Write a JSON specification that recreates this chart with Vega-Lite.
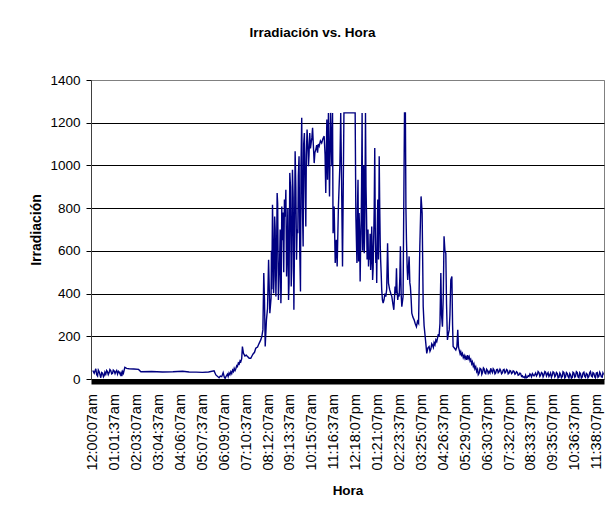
{
  "$schema": "https://vega.github.io/schema/vega-lite/v6.json",
  "width": 513,
  "height": 299,
  "autosize": {"type": "none"},
  "padding": {"left": 91, "top": 80, "right": 9, "bottom": 134},
  "background": "white",
  "config": {
    "font": "Liberation Sans",
    "view": {"stroke": "#808080", "strokeWidth": 1}
  },
  "title": {
    "text": "Irradiación vs. Hora",
    "fontSize": 13.5,
    "fontWeight": "bold",
    "color": "black",
    "anchor": "middle",
    "frame": "group",
    "dx": -35,
    "offset": 34
  },
  "data": {
    "values": [
      {"muestra": 0, "irradiacion": 40}, {"muestra": 8, "irradiacion": 27}, {"muestra": 17, "irradiacion": 48},
      {"muestra": 22, "irradiacion": 20}, {"muestra": 27, "irradiacion": 14}, {"muestra": 31, "irradiacion": 42},
      {"muestra": 36, "irradiacion": 34}, {"muestra": 41, "irradiacion": 18}, {"muestra": 45, "irradiacion": 6},
      {"muestra": 50, "irradiacion": 30}, {"muestra": 55, "irradiacion": 27}, {"muestra": 60, "irradiacion": 10},
      {"muestra": 64, "irradiacion": 16}, {"muestra": 68, "irradiacion": 32}, {"muestra": 73, "irradiacion": 22},
      {"muestra": 78, "irradiacion": 40}, {"muestra": 82, "irradiacion": 35}, {"muestra": 87, "irradiacion": 20},
      {"muestra": 92, "irradiacion": 30}, {"muestra": 96, "irradiacion": 44}, {"muestra": 101, "irradiacion": 39},
      {"muestra": 106, "irradiacion": 24}, {"muestra": 111, "irradiacion": 27}, {"muestra": 115, "irradiacion": 42},
      {"muestra": 120, "irradiacion": 38}, {"muestra": 125, "irradiacion": 25}, {"muestra": 129, "irradiacion": 34},
      {"muestra": 134, "irradiacion": 40}, {"muestra": 139, "irradiacion": 23}, {"muestra": 144, "irradiacion": 36},
      {"muestra": 148, "irradiacion": 33}, {"muestra": 155, "irradiacion": 20}, {"muestra": 159, "irradiacion": 30},
      {"muestra": 163, "irradiacion": 14}, {"muestra": 168, "irradiacion": 35}, {"muestra": 172, "irradiacion": 27},
      {"muestra": 180, "irradiacion": 55}, {"muestra": 190, "irradiacion": 50}, {"muestra": 204, "irradiacion": 48},
      {"muestra": 230, "irradiacion": 47}, {"muestra": 257, "irradiacion": 45}, {"muestra": 270, "irradiacion": 34},
      {"muestra": 330, "irradiacion": 35}, {"muestra": 391, "irradiacion": 33}, {"muestra": 450, "irradiacion": 34},
      {"muestra": 504, "irradiacion": 36}, {"muestra": 541, "irradiacion": 33}, {"muestra": 580, "irradiacion": 32},
      {"muestra": 616, "irradiacion": 31}, {"muestra": 650, "irradiacion": 33}, {"muestra": 681, "irradiacion": 38},
      {"muestra": 691, "irradiacion": 19}, {"muestra": 709, "irradiacion": 6}, {"muestra": 716, "irradiacion": 14},
      {"muestra": 724, "irradiacion": 11}, {"muestra": 732, "irradiacion": 30}, {"muestra": 738, "irradiacion": 10},
      {"muestra": 743, "irradiacion": 3}, {"muestra": 750, "irradiacion": 15}, {"muestra": 756, "irradiacion": 23},
      {"muestra": 760, "irradiacion": 12}, {"muestra": 765, "irradiacion": 28}, {"muestra": 770, "irradiacion": 20},
      {"muestra": 775, "irradiacion": 34}, {"muestra": 780, "irradiacion": 25}, {"muestra": 785, "irradiacion": 42},
      {"muestra": 790, "irradiacion": 35}, {"muestra": 794, "irradiacion": 50}, {"muestra": 799, "irradiacion": 40},
      {"muestra": 803, "irradiacion": 48}, {"muestra": 808, "irradiacion": 62}, {"muestra": 812, "irradiacion": 58},
      {"muestra": 817, "irradiacion": 75}, {"muestra": 822, "irradiacion": 70}, {"muestra": 827, "irradiacion": 85},
      {"muestra": 831, "irradiacion": 81}, {"muestra": 836, "irradiacion": 95}, {"muestra": 840, "irradiacion": 152},
      {"muestra": 846, "irradiacion": 120}, {"muestra": 854, "irradiacion": 108}, {"muestra": 862, "irradiacion": 112},
      {"muestra": 869, "irradiacion": 105}, {"muestra": 878, "irradiacion": 97}, {"muestra": 887, "irradiacion": 97},
      {"muestra": 895, "irradiacion": 110}, {"muestra": 900, "irradiacion": 117}, {"muestra": 908, "irradiacion": 125},
      {"muestra": 915, "irradiacion": 144}, {"muestra": 925, "irradiacion": 150}, {"muestra": 934, "irradiacion": 167},
      {"muestra": 943, "irradiacion": 183}, {"muestra": 949, "irradiacion": 199}, {"muestra": 955, "irradiacion": 230},
      {"muestra": 960, "irradiacion": 496}, {"muestra": 964, "irradiacion": 370}, {"muestra": 968, "irradiacion": 152},
      {"muestra": 975, "irradiacion": 277}, {"muestra": 981, "irradiacion": 330}, {"muestra": 987, "irradiacion": 558},
      {"muestra": 994, "irradiacion": 308}, {"muestra": 1001, "irradiacion": 380}, {"muestra": 1003, "irradiacion": 600},
      {"muestra": 1005, "irradiacion": 420}, {"muestra": 1009, "irradiacion": 816}, {"muestra": 1012, "irradiacion": 650},
      {"muestra": 1015, "irradiacion": 402}, {"muestra": 1018, "irradiacion": 480}, {"muestra": 1021, "irradiacion": 761},
      {"muestra": 1024, "irradiacion": 700}, {"muestra": 1028, "irradiacion": 386}, {"muestra": 1031, "irradiacion": 520},
      {"muestra": 1035, "irradiacion": 871}, {"muestra": 1038, "irradiacion": 820}, {"muestra": 1042, "irradiacion": 370},
      {"muestra": 1045, "irradiacion": 450}, {"muestra": 1049, "irradiacion": 558}, {"muestra": 1052, "irradiacion": 700},
      {"muestra": 1056, "irradiacion": 355}, {"muestra": 1058, "irradiacion": 420}, {"muestra": 1061, "irradiacion": 808},
      {"muestra": 1064, "irradiacion": 650}, {"muestra": 1068, "irradiacion": 780}, {"muestra": 1072, "irradiacion": 500},
      {"muestra": 1076, "irradiacion": 840}, {"muestra": 1080, "irradiacion": 760}, {"muestra": 1084, "irradiacion": 886},
      {"muestra": 1088, "irradiacion": 480}, {"muestra": 1092, "irradiacion": 621}, {"muestra": 1095, "irradiacion": 800},
      {"muestra": 1099, "irradiacion": 370}, {"muestra": 1102, "irradiacion": 450}, {"muestra": 1106, "irradiacion": 965},
      {"muestra": 1110, "irradiacion": 900}, {"muestra": 1114, "irradiacion": 433}, {"muestra": 1117, "irradiacion": 520},
      {"muestra": 1121, "irradiacion": 980}, {"muestra": 1125, "irradiacion": 850}, {"muestra": 1129, "irradiacion": 324},
      {"muestra": 1132, "irradiacion": 600}, {"muestra": 1136, "irradiacion": 1066}, {"muestra": 1140, "irradiacion": 900},
      {"muestra": 1144, "irradiacion": 558}, {"muestra": 1147, "irradiacion": 700}, {"muestra": 1151, "irradiacion": 683},
      {"muestra": 1154, "irradiacion": 950}, {"muestra": 1158, "irradiacion": 1043}, {"muestra": 1162, "irradiacion": 600},
      {"muestra": 1166, "irradiacion": 410}, {"muestra": 1169, "irradiacion": 1000}, {"muestra": 1173, "irradiacion": 1223},
      {"muestra": 1177, "irradiacion": 800}, {"muestra": 1181, "irradiacion": 621}, {"muestra": 1184, "irradiacion": 1100},
      {"muestra": 1188, "irradiacion": 1152}, {"muestra": 1192, "irradiacion": 900}, {"muestra": 1196, "irradiacion": 714},
      {"muestra": 1199, "irradiacion": 1050}, {"muestra": 1203, "irradiacion": 1168}, {"muestra": 1207, "irradiacion": 1100},
      {"muestra": 1211, "irradiacion": 996}, {"muestra": 1214, "irradiacion": 1050}, {"muestra": 1218, "irradiacion": 1152},
      {"muestra": 1222, "irradiacion": 1080}, {"muestra": 1226, "irradiacion": 1105}, {"muestra": 1230, "irradiacion": 1130},
      {"muestra": 1234, "irradiacion": 1176}, {"muestra": 1238, "irradiacion": 1100}, {"muestra": 1243, "irradiacion": 1011},
      {"muestra": 1247, "irradiacion": 1060}, {"muestra": 1252, "irradiacion": 1074}, {"muestra": 1257, "irradiacion": 1095},
      {"muestra": 1262, "irradiacion": 1060}, {"muestra": 1266, "irradiacion": 1100}, {"muestra": 1271, "irradiacion": 1090},
      {"muestra": 1278, "irradiacion": 1115}, {"muestra": 1285, "irradiacion": 1105}, {"muestra": 1292, "irradiacion": 1125},
      {"muestra": 1299, "irradiacion": 1137}, {"muestra": 1304, "irradiacion": 1050}, {"muestra": 1308, "irradiacion": 871},
      {"muestra": 1314, "irradiacion": 1215}, {"muestra": 1318, "irradiacion": 933}, {"muestra": 1323, "irradiacion": 1246},
      {"muestra": 1329, "irradiacion": 855}, {"muestra": 1335, "irradiacion": 1246}, {"muestra": 1342, "irradiacion": 996},
      {"muestra": 1346, "irradiacion": 1246}, {"muestra": 1349, "irradiacion": 683}, {"muestra": 1355, "irradiacion": 808},
      {"muestra": 1361, "irradiacion": 543}, {"muestra": 1367, "irradiacion": 652}, {"muestra": 1372, "irradiacion": 527},
      {"muestra": 1379, "irradiacion": 808}, {"muestra": 1387, "irradiacion": 996}, {"muestra": 1392, "irradiacion": 1246},
      {"muestra": 1396, "irradiacion": 980}, {"muestra": 1402, "irradiacion": 527}, {"muestra": 1410, "irradiacion": 1246},
      {"muestra": 1473, "irradiacion": 1246}, {"muestra": 1477, "irradiacion": 761}, {"muestra": 1480, "irradiacion": 650},
      {"muestra": 1483, "irradiacion": 543}, {"muestra": 1486, "irradiacion": 800}, {"muestra": 1489, "irradiacion": 933},
      {"muestra": 1492, "irradiacion": 550}, {"muestra": 1495, "irradiacion": 777}, {"muestra": 1498, "irradiacion": 700},
      {"muestra": 1501, "irradiacion": 456}, {"muestra": 1503, "irradiacion": 580}, {"muestra": 1506, "irradiacion": 683},
      {"muestra": 1509, "irradiacion": 900}, {"muestra": 1512, "irradiacion": 1246}, {"muestra": 1515, "irradiacion": 600},
      {"muestra": 1518, "irradiacion": 761}, {"muestra": 1521, "irradiacion": 1000}, {"muestra": 1524, "irradiacion": 589},
      {"muestra": 1527, "irradiacion": 700}, {"muestra": 1531, "irradiacion": 1246}, {"muestra": 1534, "irradiacion": 900},
      {"muestra": 1537, "irradiacion": 761}, {"muestra": 1540, "irradiacion": 560}, {"muestra": 1542, "irradiacion": 652},
      {"muestra": 1545, "irradiacion": 700}, {"muestra": 1548, "irradiacion": 527}, {"muestra": 1551, "irradiacion": 600},
      {"muestra": 1554, "irradiacion": 558}, {"muestra": 1557, "irradiacion": 680}, {"muestra": 1560, "irradiacion": 511},
      {"muestra": 1563, "irradiacion": 560}, {"muestra": 1566, "irradiacion": 714}, {"muestra": 1569, "irradiacion": 600},
      {"muestra": 1571, "irradiacion": 464}, {"muestra": 1574, "irradiacion": 520}, {"muestra": 1577, "irradiacion": 652},
      {"muestra": 1580, "irradiacion": 800}, {"muestra": 1583, "irradiacion": 1082}, {"muestra": 1586, "irradiacion": 700},
      {"muestra": 1589, "irradiacion": 543}, {"muestra": 1592, "irradiacion": 600}, {"muestra": 1594, "irradiacion": 449},
      {"muestra": 1597, "irradiacion": 700}, {"muestra": 1600, "irradiacion": 840}, {"muestra": 1604, "irradiacion": 560},
      {"muestra": 1608, "irradiacion": 1043}, {"muestra": 1611, "irradiacion": 800}, {"muestra": 1614, "irradiacion": 621},
      {"muestra": 1616, "irradiacion": 560}, {"muestra": 1619, "irradiacion": 496}, {"muestra": 1622, "irradiacion": 420},
      {"muestra": 1626, "irradiacion": 370}, {"muestra": 1630, "irradiacion": 355}, {"muestra": 1635, "irradiacion": 370},
      {"muestra": 1640, "irradiacion": 400}, {"muestra": 1645, "irradiacion": 386}, {"muestra": 1650, "irradiacion": 420},
      {"muestra": 1655, "irradiacion": 636}, {"muestra": 1660, "irradiacion": 449}, {"muestra": 1664, "irradiacion": 430},
      {"muestra": 1667, "irradiacion": 417}, {"muestra": 1673, "irradiacion": 400}, {"muestra": 1679, "irradiacion": 386},
      {"muestra": 1685, "irradiacion": 350}, {"muestra": 1690, "irradiacion": 324}, {"muestra": 1697, "irradiacion": 433},
      {"muestra": 1701, "irradiacion": 400}, {"muestra": 1705, "irradiacion": 519}, {"muestra": 1708, "irradiacion": 420},
      {"muestra": 1712, "irradiacion": 370}, {"muestra": 1716, "irradiacion": 400}, {"muestra": 1720, "irradiacion": 386},
      {"muestra": 1724, "irradiacion": 480}, {"muestra": 1727, "irradiacion": 621}, {"muestra": 1731, "irradiacion": 400},
      {"muestra": 1735, "irradiacion": 339}, {"muestra": 1742, "irradiacion": 386}, {"muestra": 1750, "irradiacion": 1246},
      {"muestra": 1755, "irradiacion": 1246}, {"muestra": 1758, "irradiacion": 800}, {"muestra": 1761, "irradiacion": 652},
      {"muestra": 1765, "irradiacion": 520}, {"muestra": 1768, "irradiacion": 464}, {"muestra": 1772, "irradiacion": 520},
      {"muestra": 1776, "irradiacion": 574}, {"muestra": 1780, "irradiacion": 450}, {"muestra": 1783, "irradiacion": 433},
      {"muestra": 1787, "irradiacion": 380}, {"muestra": 1791, "irradiacion": 308}, {"muestra": 1797, "irradiacion": 290},
      {"muestra": 1804, "irradiacion": 277}, {"muestra": 1810, "irradiacion": 260}, {"muestra": 1817, "irradiacion": 245},
      {"muestra": 1823, "irradiacion": 270}, {"muestra": 1829, "irradiacion": 261}, {"muestra": 1836, "irradiacion": 621},
      {"muestra": 1843, "irradiacion": 855}, {"muestra": 1849, "irradiacion": 777}, {"muestra": 1855, "irradiacion": 339},
      {"muestra": 1860, "irradiacion": 250}, {"muestra": 1866, "irradiacion": 199}, {"muestra": 1875, "irradiacion": 120},
      {"muestra": 1881, "irradiacion": 145}, {"muestra": 1888, "irradiacion": 152}, {"muestra": 1893, "irradiacion": 130},
      {"muestra": 1898, "irradiacion": 140}, {"muestra": 1903, "irradiacion": 165}, {"muestra": 1907, "irradiacion": 159},
      {"muestra": 1912, "irradiacion": 148}, {"muestra": 1916, "irradiacion": 170}, {"muestra": 1921, "irradiacion": 160},
      {"muestra": 1926, "irradiacion": 183}, {"muestra": 1931, "irradiacion": 175}, {"muestra": 1935, "irradiacion": 190},
      {"muestra": 1940, "irradiacion": 210}, {"muestra": 1944, "irradiacion": 199}, {"muestra": 1949, "irradiacion": 260},
      {"muestra": 1954, "irradiacion": 496}, {"muestra": 1958, "irradiacion": 300}, {"muestra": 1963, "irradiacion": 245},
      {"muestra": 1968, "irradiacion": 400}, {"muestra": 1972, "irradiacion": 668}, {"muestra": 1977, "irradiacion": 600},
      {"muestra": 1982, "irradiacion": 589}, {"muestra": 1986, "irradiacion": 350}, {"muestra": 1991, "irradiacion": 183},
      {"muestra": 1996, "irradiacion": 210}, {"muestra": 2001, "irradiacion": 230}, {"muestra": 2005, "irradiacion": 300},
      {"muestra": 2010, "irradiacion": 464}, {"muestra": 2016, "irradiacion": 480}, {"muestra": 2020, "irradiacion": 250},
      {"muestra": 2023, "irradiacion": 152}, {"muestra": 2030, "irradiacion": 145}, {"muestra": 2038, "irradiacion": 136},
      {"muestra": 2044, "irradiacion": 150}, {"muestra": 2049, "irradiacion": 230}, {"muestra": 2053, "irradiacion": 150},
      {"muestra": 2057, "irradiacion": 136}, {"muestra": 2062, "irradiacion": 118}, {"muestra": 2066, "irradiacion": 128},
      {"muestra": 2070, "irradiacion": 112}, {"muestra": 2075, "irradiacion": 120}, {"muestra": 2080, "irradiacion": 100},
      {"muestra": 2085, "irradiacion": 110}, {"muestra": 2090, "irradiacion": 95}, {"muestra": 2094, "irradiacion": 105},
      {"muestra": 2099, "irradiacion": 90}, {"muestra": 2104, "irradiacion": 112}, {"muestra": 2108, "irradiacion": 95},
      {"muestra": 2113, "irradiacion": 105}, {"muestra": 2118, "irradiacion": 85}, {"muestra": 2122, "irradiacion": 92},
      {"muestra": 2127, "irradiacion": 72}, {"muestra": 2131, "irradiacion": 81}, {"muestra": 2136, "irradiacion": 60},
      {"muestra": 2140, "irradiacion": 70}, {"muestra": 2145, "irradiacion": 48}, {"muestra": 2150, "irradiacion": 58},
      {"muestra": 2155, "irradiacion": 35}, {"muestra": 2160, "irradiacion": 45}, {"muestra": 2164, "irradiacion": 20},
      {"muestra": 2169, "irradiacion": 27}, {"muestra": 2174, "irradiacion": 50}, {"muestra": 2180, "irradiacion": 45},
      {"muestra": 2184, "irradiacion": 22}, {"muestra": 2188, "irradiacion": 30}, {"muestra": 2193, "irradiacion": 52},
      {"muestra": 2197, "irradiacion": 48}, {"muestra": 2202, "irradiacion": 28}, {"muestra": 2206, "irradiacion": 25},
      {"muestra": 2211, "irradiacion": 46}, {"muestra": 2216, "irradiacion": 40}, {"muestra": 2220, "irradiacion": 26},
      {"muestra": 2225, "irradiacion": 35}, {"muestra": 2230, "irradiacion": 28}, {"muestra": 2234, "irradiacion": 50},
      {"muestra": 2239, "irradiacion": 38}, {"muestra": 2244, "irradiacion": 30}, {"muestra": 2248, "irradiacion": 48},
      {"muestra": 2253, "irradiacion": 42}, {"muestra": 2258, "irradiacion": 24}, {"muestra": 2262, "irradiacion": 28},
      {"muestra": 2267, "irradiacion": 44}, {"muestra": 2272, "irradiacion": 45}, {"muestra": 2276, "irradiacion": 30},
      {"muestra": 2281, "irradiacion": 35}, {"muestra": 2286, "irradiacion": 46}, {"muestra": 2290, "irradiacion": 40},
      {"muestra": 2295, "irradiacion": 25}, {"muestra": 2300, "irradiacion": 30}, {"muestra": 2304, "irradiacion": 42},
      {"muestra": 2309, "irradiacion": 45}, {"muestra": 2314, "irradiacion": 28}, {"muestra": 2318, "irradiacion": 32},
      {"muestra": 2323, "irradiacion": 44}, {"muestra": 2328, "irradiacion": 40}, {"muestra": 2332, "irradiacion": 24},
      {"muestra": 2337, "irradiacion": 28}, {"muestra": 2342, "irradiacion": 40}, {"muestra": 2346, "irradiacion": 38},
      {"muestra": 2351, "irradiacion": 25}, {"muestra": 2356, "irradiacion": 30}, {"muestra": 2360, "irradiacion": 38},
      {"muestra": 2365, "irradiacion": 35}, {"muestra": 2370, "irradiacion": 22}, {"muestra": 2374, "irradiacion": 25},
      {"muestra": 2379, "irradiacion": 34}, {"muestra": 2384, "irradiacion": 30}, {"muestra": 2388, "irradiacion": 18},
      {"muestra": 2393, "irradiacion": 20}, {"muestra": 2398, "irradiacion": 28}, {"muestra": 2402, "irradiacion": 25},
      {"muestra": 2407, "irradiacion": 12}, {"muestra": 2412, "irradiacion": 15}, {"muestra": 2416, "irradiacion": 8},
      {"muestra": 2421, "irradiacion": 10}, {"muestra": 2426, "irradiacion": 5}, {"muestra": 2430, "irradiacion": 18},
      {"muestra": 2435, "irradiacion": 6}, {"muestra": 2440, "irradiacion": 8}, {"muestra": 2444, "irradiacion": 15},
      {"muestra": 2449, "irradiacion": 12}, {"muestra": 2454, "irradiacion": 24}, {"muestra": 2458, "irradiacion": 20},
      {"muestra": 2463, "irradiacion": 10}, {"muestra": 2468, "irradiacion": 25}, {"muestra": 2472, "irradiacion": 20},
      {"muestra": 2477, "irradiacion": 15}, {"muestra": 2482, "irradiacion": 22}, {"muestra": 2486, "irradiacion": 28},
      {"muestra": 2491, "irradiacion": 14}, {"muestra": 2496, "irradiacion": 22}, {"muestra": 2500, "irradiacion": 35},
      {"muestra": 2505, "irradiacion": 30}, {"muestra": 2510, "irradiacion": 12}, {"muestra": 2514, "irradiacion": 18},
      {"muestra": 2519, "irradiacion": 30}, {"muestra": 2524, "irradiacion": 26}, {"muestra": 2528, "irradiacion": 10},
      {"muestra": 2533, "irradiacion": 20}, {"muestra": 2538, "irradiacion": 35}, {"muestra": 2542, "irradiacion": 32},
      {"muestra": 2547, "irradiacion": 14}, {"muestra": 2552, "irradiacion": 24}, {"muestra": 2556, "irradiacion": 30},
      {"muestra": 2561, "irradiacion": 12}, {"muestra": 2566, "irradiacion": 20}, {"muestra": 2570, "irradiacion": 28},
      {"muestra": 2575, "irradiacion": 8}, {"muestra": 2580, "irradiacion": 20}, {"muestra": 2584, "irradiacion": 34},
      {"muestra": 2589, "irradiacion": 30}, {"muestra": 2594, "irradiacion": 10}, {"muestra": 2598, "irradiacion": 15},
      {"muestra": 2603, "irradiacion": 30}, {"muestra": 2608, "irradiacion": 25}, {"muestra": 2612, "irradiacion": 5},
      {"muestra": 2617, "irradiacion": 8}, {"muestra": 2622, "irradiacion": 28}, {"muestra": 2626, "irradiacion": 22},
      {"muestra": 2631, "irradiacion": 6}, {"muestra": 2636, "irradiacion": 12}, {"muestra": 2640, "irradiacion": 34},
      {"muestra": 2645, "irradiacion": 30}, {"muestra": 2650, "irradiacion": 5}, {"muestra": 2654, "irradiacion": 10},
      {"muestra": 2659, "irradiacion": 30}, {"muestra": 2664, "irradiacion": 25}, {"muestra": 2668, "irradiacion": 12},
      {"muestra": 2673, "irradiacion": 5}, {"muestra": 2678, "irradiacion": 26}, {"muestra": 2682, "irradiacion": 20},
      {"muestra": 2687, "irradiacion": 4}, {"muestra": 2692, "irradiacion": 8}, {"muestra": 2696, "irradiacion": 32},
      {"muestra": 2701, "irradiacion": 28}, {"muestra": 2706, "irradiacion": 8}, {"muestra": 2710, "irradiacion": 12},
      {"muestra": 2715, "irradiacion": 34}, {"muestra": 2720, "irradiacion": 30}, {"muestra": 2724, "irradiacion": 10},
      {"muestra": 2729, "irradiacion": 6}, {"muestra": 2734, "irradiacion": 30}, {"muestra": 2738, "irradiacion": 25},
      {"muestra": 2743, "irradiacion": 5}, {"muestra": 2748, "irradiacion": 10}, {"muestra": 2752, "irradiacion": 28},
      {"muestra": 2757, "irradiacion": 32}, {"muestra": 2762, "irradiacion": 12}, {"muestra": 2766, "irradiacion": 8},
      {"muestra": 2771, "irradiacion": 26}, {"muestra": 2776, "irradiacion": 22}, {"muestra": 2780, "irradiacion": 6},
      {"muestra": 2785, "irradiacion": 12}, {"muestra": 2790, "irradiacion": 30}, {"muestra": 2794, "irradiacion": 35},
      {"muestra": 2799, "irradiacion": 14}, {"muestra": 2804, "irradiacion": 10}, {"muestra": 2808, "irradiacion": 30},
      {"muestra": 2813, "irradiacion": 26}, {"muestra": 2818, "irradiacion": 10}, {"muestra": 2822, "irradiacion": 6},
      {"muestra": 2827, "irradiacion": 28}, {"muestra": 2832, "irradiacion": 30}, {"muestra": 2836, "irradiacion": 8},
      {"muestra": 2841, "irradiacion": 12}, {"muestra": 2846, "irradiacion": 32}, {"muestra": 2850, "irradiacion": 25},
      {"muestra": 2855, "irradiacion": 10}, {"muestra": 2860, "irradiacion": 8}, {"muestra": 2864, "irradiacion": 28},
      {"muestra": 2868, "irradiacion": 20}
    ]
  },
  "mark": {"type": "line", "color": "#000080", "strokeWidth": 1.4, "clip": true},
  "encoding": {
    "x": {
      "field": "muestra",
      "type": "quantitative",
      "scale": {"domain": [-10, 2870], "nice": false, "zero": false},
      "axis": {
        "title": "Hora",
        "values": [0, 123, 246, 369, 492, 615, 738, 861, 984, 1107, 1230, 1353, 1476, 1599, 1722, 1845, 1968, 2091, 2214, 2337, 2460, 2583, 2706, 2829],
        "labelExpr": "['12:00:07am','01:01:37am','02:03:07am','03:04:37am','04:06:07am','05:07:37am','06:09:07am','07:10:37am','08:12:07am','09:13:37am','10:15:07am','11:16:37am','12:18:07pm','01:21:07pm','02:23:37pm','03:25:07pm','04:26:37pm','05:29:07pm','06:30:37pm','07:32:07pm','08:33:37pm','09:35:07pm','10:36:37pm','11:38:07pm'][round(datum.value/123)]",
        "labelAngle": 270,
        "labelAlign": "right",
        "labelBaseline": "middle",
        "labelFontSize": 14.5,
        "labelColor": "black",
        "labelPadding": 12,
        "labelOverlap": false,
        "labelFlush": false,
        "ticks": false,
        "grid": false,
        "domainColor": "black",
        "domainWidth": 5,
        "offset": 2.5,
        "titleFontSize": 13.5,
        "titleFontWeight": "bold",
        "titleColor": "black",
        "titlePadding": 13
      }
    },
    "y": {
      "field": "irradiacion",
      "type": "quantitative",
      "scale": {"domain": [0, 1400], "nice": false},
      "axis": {
        "title": "Irradiación",
        "values": [0, 200, 400, 600, 800, 1000, 1200, 1400],
        "format": "d",
        "tickSize": 5,
        "tickColor": "black",
        "labelPadding": 6,
        "labelFontSize": 13.5,
        "labelColor": "black",
        "labelFlush": false,
        "domainColor": "#404040",
        "gridColor": {"condition": {"test": "datum.value == 1400", "value": "#808080"}, "value": "black"},
        "gridWidth": 1,
        "titleFontSize": 14,
        "titleFontWeight": "bold",
        "titleColor": "black",
        "titlePadding": 6
      }
    }
  }
}
